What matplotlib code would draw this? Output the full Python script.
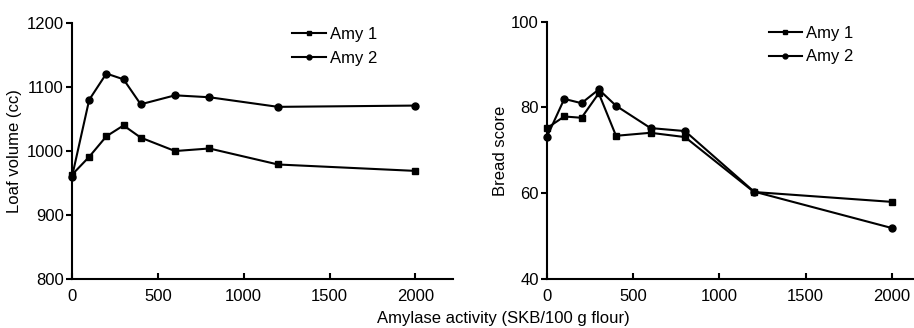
import matplotlib.pyplot as plt
import numpy as np

plt.rcParams['font.family'] = ['Liberation Sans', 'DejaVu Sans']
plt.rcParams['font.size'] = 12

# amylase activity (SKB/100 g flour)
activity = [0, 100, 200, 300, 400, 600, 800, 1200, 2000]

# loaf volume (cc)
volume_amy1 = [963, 991, 1023, 1040, 1021, 1000, 1004, 979, 969]
volume_amy2 = [960, 1080, 1121, 1112, 1073, 1087, 1084, 1069, 1071]

# bread score
score_amy1 = [75.2, 77.9, 77.6, 83.3, 73.4, 74.1, 73.1, 60.3, 58.0]
score_amy2 = [73.2, 82.0, 81.0, 84.2, 80.4, 75.2, 74.5, 60.4, 51.9]

fig = plt.figure(figsize=(9.14, 3.28), dpi=100)
ax1 = fig.add_axes([0.0788, 0.149, 0.417, 0.781])
ax2 = fig.add_axes([0.5985, 0.149, 0.400, 0.785])


def style(ax, xmax):
    for s in ['top', 'right']:
        ax.spines[s].set_visible(False)
    for s in ['left', 'bottom']:
        ax.spines[s].set_linewidth(1.5)
    ax.set_xlim(0, xmax)
    ax.set_xticks([0, 500, 1000, 1500, 2000])
    ax.tick_params(axis='x', direction='in', length=4, width=1.5, pad=7)
    ax.tick_params(axis='y', direction='out', length=4, width=1.5, pad=2)


ax1.plot(activity, volume_amy1, color='k', lw=1.5, marker='s', ms=5, label='Amy 1', clip_on=False)
ax1.plot(activity, volume_amy2, color='k', lw=1.5, marker='o', ms=5, label='Amy 2', clip_on=False)
style(ax1, 2220)
ax1.set_ylim(800, 1200)
ax1.set_yticks([800, 900, 1000, 1100, 1200])
ax1.set_ylabel('Loaf volume (cc)', labelpad=3)
ax1.legend(loc='upper left', bbox_to_anchor=(0.578, 0.983), frameon=False,
           handlelength=2.0, handletextpad=0.25, borderpad=0, borderaxespad=0,
           markerscale=0.7, labelspacing=0.5)

ax2.plot(activity, score_amy1, color='k', lw=1.5, marker='s', ms=5, label='Amy 1', clip_on=False)
ax2.plot(activity, score_amy2, color='k', lw=1.5, marker='o', ms=5, label='Amy 2', clip_on=False)
style(ax2, 2120)
ax2.set_ylim(40, 100)
ax2.set_yticks([40, 60, 80, 100])
ax2.set_ylabel('Bread score', labelpad=2)
ax2.legend(loc='upper left', bbox_to_anchor=(0.606, 0.983), frameon=False,
           handlelength=2.0, handletextpad=0.25, borderpad=0, borderaxespad=0,
           markerscale=0.7, labelspacing=0.5)

fig.text(503 / 914, 0.03, 'Amylase activity (SKB/100 g flour)', ha='center', va='center')

fig.savefig('out.png', dpi=100)
